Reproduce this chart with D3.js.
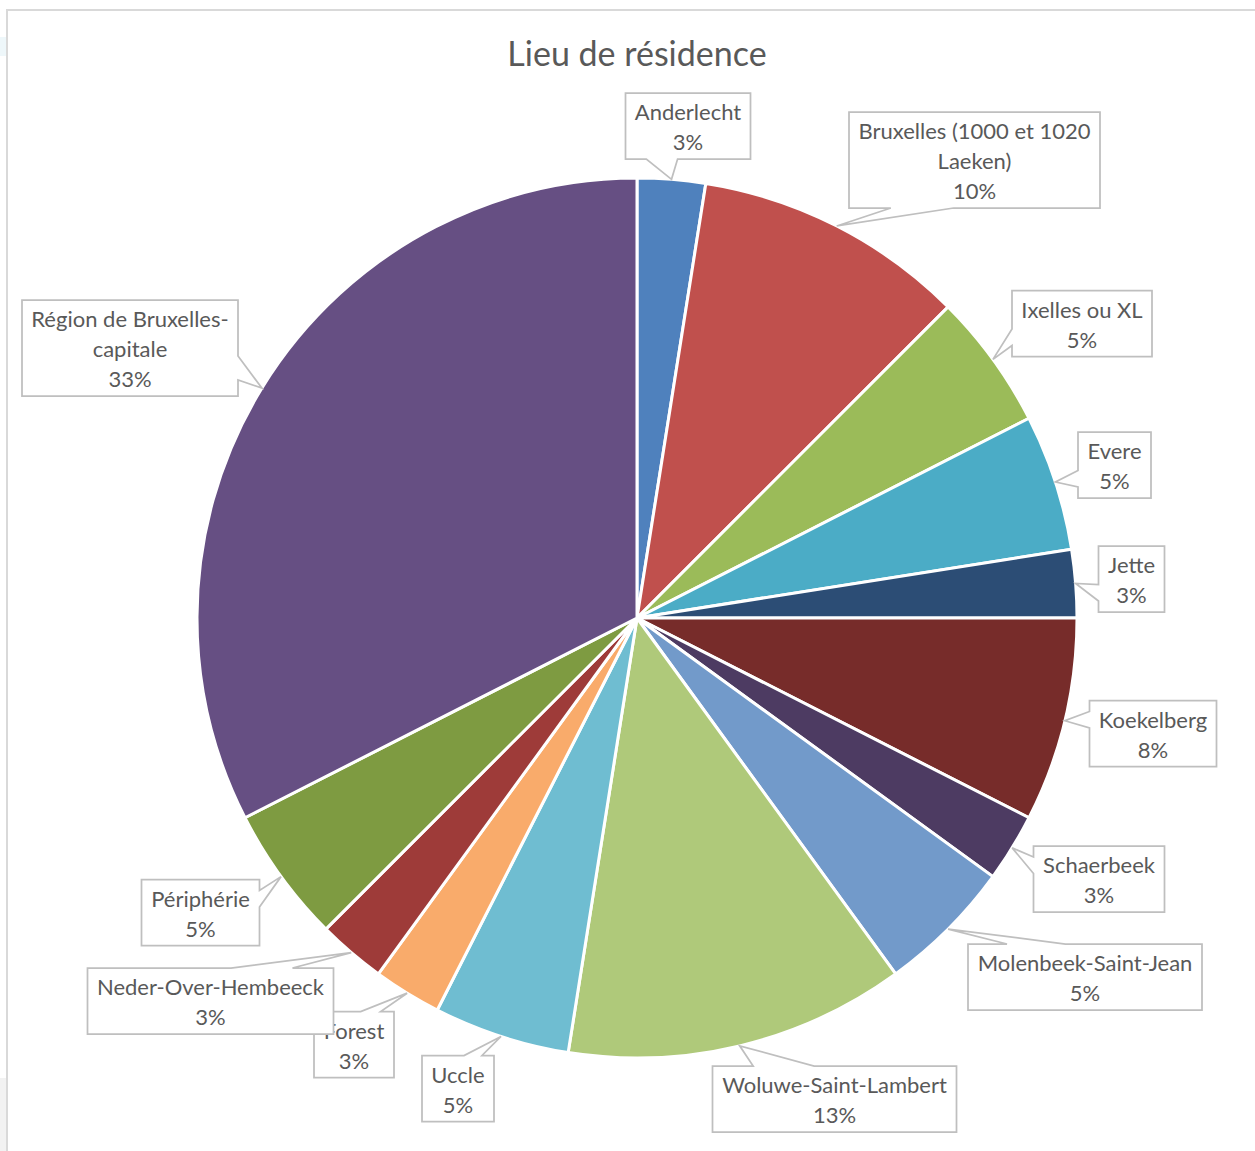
<!DOCTYPE html>
<html>
<head>
<meta charset="utf-8">
<script src="https://cdn.jsdelivr.net/npm/d3@7"></script>
<style>
  html, body { margin: 0; padding: 0; background: #ffffff; }
  svg { display: block; }
</style>
</head>
<body>
<svg id="chart" width="1255" height="1151"></svg>
<script>
// ---------- data ----------
const title = "Lieu de résidence";
const categories = [
  "Anderlecht",
  "Bruxelles (1000 et 1020 Laeken)",
  "Ixelles ou XL",
  "Evere",
  "Jette",
  "Koekelberg",
  "Schaerbeek",
  "Molenbeek-Saint-Jean",
  "Woluwe-Saint-Lambert",
  "Uccle",
  "Forest",
  "Neder-Over-Hembeeck",
  "Périphérie",
  "Région de Bruxelles-capitale"
];
const counts = [1, 4, 2, 2, 1, 3, 1, 2, 5, 2, 1, 1, 2, 13];
// label text lines (how the category names wrap in the callouts)
const labelLines = [
  ["Anderlecht"],
  ["Bruxelles (1000 et 1020", "Laeken)"],
  ["Ixelles ou XL"],
  ["Evere"],
  ["Jette"],
  ["Koekelberg"],
  ["Schaerbeek"],
  ["Molenbeek-Saint-Jean"],
  ["Woluwe-Saint-Lambert"],
  ["Uccle"],
  ["Forest"],
  ["Neder-Over-Hembeeck"],
  ["Périphérie"],
  ["Région de Bruxelles-", "capitale"]
];
const colors = [
  "#4F81BD", "#C0504D", "#9BBB59", "#4BACC6", "#2C4D75", "#772C2A", "#4D3B62",
  "#729ACA", "#AFC97A", "#6FBDD1", "#F9AB6B", "#9E3B39", "#7E9B41", "#664F83"
];

// ---------- layout ----------
const W = 1255, H = 1151;
const cx = 637, cy = 618, R = 440;
// callout box centres (layout only)
const labelCenters = [
  [688, 126], [974.5, 160], [1082, 323.5], [1114.5, 465], [1131.5, 579],
  [1153, 733.5], [1099, 879], [1085, 977], [834.5, 1099], [458, 1088.5],
  [354, 1044.5], [210.5, 1001], [200.5, 912.5], [130, 348]
];
const FONT = "Lato, 'Open Sans', sans-serif";
const LABEL_SIZE = 22;
const LINE_H = 30;

const svg = d3.select("#chart");

// chart frame
svg.append("rect").attr("x", 0).attr("y", 37).attr("width", 6).attr("height", 19).attr("fill", "#EEF7FA");
svg.append("rect").attr("x", 0).attr("y", 1078).attr("width", 6).attr("height", 73).attr("fill", "#F2F2F2");
svg.append("path")
  .attr("d", `M7,${H} L7,10 L${W},10`)
  .attr("fill", "none").attr("stroke", "#D9D9D9").attr("stroke-width", 2);

// title
svg.append("text")
  .attr("x", 637).attr("y", 66)
  .attr("text-anchor", "middle")
  .attr("font-family", FONT).attr("font-size", 34)
  .attr("fill", "#595959")
  .text(title);

const total = d3.sum(counts);
const pie = d3.pie().sort(null).value(d => d)(counts);
const arc = d3.arc().innerRadius(0).outerRadius(R);

const g = svg.append("g").attr("transform", `translate(${cx},${cy})`);
g.selectAll("path.slice").data(pie).join("path")
  .attr("class", "slice")
  .attr("d", arc)
  .attr("fill", (d, i) => colors[i])
  .attr("stroke", "#ffffff")
  .attr("stroke-width", 3)
  .attr("stroke-linejoin", "round");

// measure helper
const meas = svg.append("text").attr("font-family", FONT).attr("font-size", LABEL_SIZE).attr("visibility", "hidden");
function textW(s) { meas.text(s); return meas.node().getComputedTextLength(); }

function calloutPath(b, ax, ay) {
  const { x, y, w, h } = b;
  const mx = x + w / 2, my = y + h / 2;
  const dxPos = ax - mx, dyPos = ay - my;
  if (ax >= x && ax <= x + w && ay >= y && ay <= y + h) {
    return `M${x},${y}H${x + w}V${y + h}H${x}Z`;
  }
  const dx = dxPos * h / w;
  const x1 = w * (dxPos > 0 ? 7 : 2) / 12, x2 = w * (dxPos > 0 ? 10 : 5) / 12;
  const y1 = h * (dyPos > 0 ? 7 : 2) / 12, y2 = h * (dyPos > 0 ? 10 : 5) / 12;
  if (Math.abs(dyPos) > Math.abs(dx)) {
    if (dyPos > 0) {
      return `M${x},${y}L${x + w},${y}L${x + w},${y + h}L${x + x2},${y + h}L${ax},${ay}L${x + x1},${y + h}L${x},${y + h}Z`;
    }
    return `M${x},${y}L${x + x1},${y}L${ax},${ay}L${x + x2},${y}L${x + w},${y}L${x + w},${y + h}L${x},${y + h}Z`;
  } else {
    if (dxPos > 0) {
      return `M${x},${y}L${x + w},${y}L${x + w},${y + y1}L${ax},${ay}L${x + w},${y + y2}L${x + w},${y + h}L${x},${y + h}Z`;
    }
    return `M${x},${y}L${x + w},${y}L${x + w},${y + h}L${x},${y + h}L${x},${y + y2}L${ax},${ay}L${x},${y + y1}Z`;
  }
}

const labels = svg.append("g");
pie.forEach((d, i) => {
  const pct = Math.round(d.value / total * 100) + "%";
  const lines = labelLines[i].concat([pct]);
  const tw = d3.max(lines, textW);
  const w = Math.round(tw + 19);
  const h = lines.length * LINE_H + 6;
  const [lx, ly] = labelCenters[i];
  const box = { x: lx - w / 2, y: ly - h / 2, w, h };
  const mid = (d.startAngle + d.endAngle) / 2;
  const ax = cx + R * Math.sin(mid);
  const ay = cy - R * Math.cos(mid);
  const gg = labels.append("g");
  gg.append("path")
    .attr("d", calloutPath(box, ax, ay))
    .attr("fill", "#ffffff")
    .attr("stroke", "#BFBFBF")
    .attr("stroke-width", 1.75)
    .attr("stroke-linejoin", "miter");
  lines.forEach((s, k) => {
    gg.append("text")
      .attr("x", lx)
      .attr("y", box.y + 3 + 24 + k * LINE_H)
      .attr("text-anchor", "middle")
      .attr("font-family", FONT)
      .attr("font-size", LABEL_SIZE)
      .attr("fill", "#595959")
      .text(s);
  });
});
meas.remove();
</script>
</body>
</html>
